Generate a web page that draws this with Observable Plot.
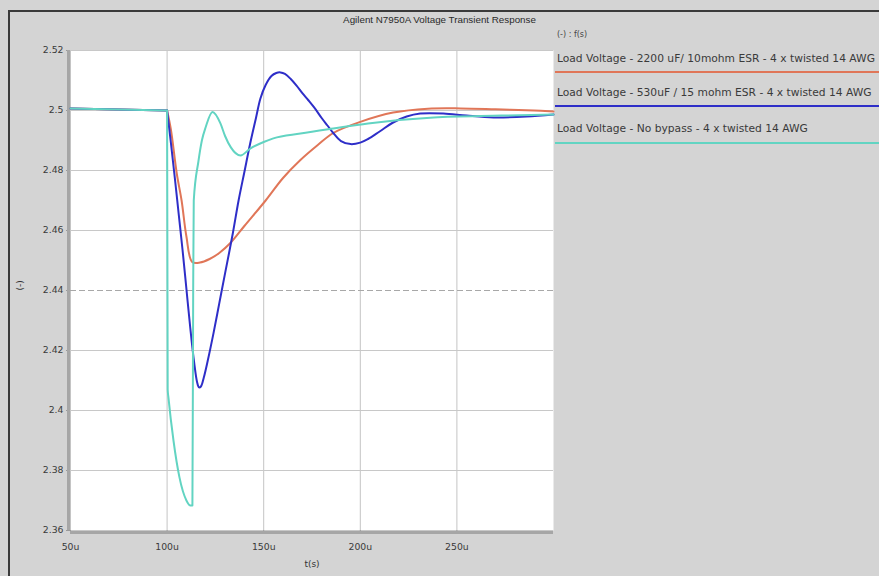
<!DOCTYPE html>
<html>
<head>
<meta charset="utf-8">
<script src="https://cdn.jsdelivr.net/npm/d3@7"></script>
<script src="https://cdn.jsdelivr.net/npm/@observablehq/plot@0.6"></script>
<style>
  html, body { margin: 0; padding: 0; background: #d4d4d4; overflow: hidden; width: 879px; height: 576px; }
  #wrap { position: relative; width: 879px; height: 576px; background: #d4d4d4; overflow: hidden;
          font-family: "Liberation Sans", Arial, sans-serif; color: #333; }
  #wrap svg { position: absolute; left: 0; top: 0; }
  .hline { position: absolute; left: 8px; top: 10px; width: 871px; height: 2px; background: #3a3a3a; }
  .vline { position: absolute; left: 8px; top: 10px; width: 2px; height: 566px; background: #3a3a3a; }
  .cover { position: absolute; left: 872px; top: 12px; width: 7px; height: 564px; background: #d4d4d4; }
  #title { position: absolute; top: 14px; left: 0; width: 879px; text-align: center; font-size: 9.8px; color: #2a2a2a; }
  .leghead { position: absolute; left: 557px; top: 30px; font-size: 8px; color: #444; font-family: "DejaVu Sans", sans-serif; }
  .legtext { position: absolute; left: 557px; font-size: 10.7px; color: #3a3a3a; white-space: nowrap; font-family: "DejaVu Sans", sans-serif; }
  .legline { position: absolute; left: 555px; width: 324px; height: 2px; }
</style>
</head>
<body>
<div id="wrap">
  <div class="hline"></div>
  <div class="vline"></div>
</div>
<script>
// ---- data (time in µs, voltage in V) ----
const seriesNames = [
  "Load Voltage - 2200 uF/ 10mohm ESR - 4 x twisted 14 AWG",
  "Load Voltage - 530uF / 15 mohm ESR - 4 x twisted 14 AWG",
  "Load Voltage - No bypass - 4 x twisted 14 AWG"
];
const seriesColors = ["#e07658", "#2e2ec8", "#62d4c2"];

const redT = [50, 75, 100, 102, 105, 107.5, 110, 113, 117, 122, 127, 133, 140, 151, 160, 169, 178, 186, 200, 217, 235, 252, 270, 290, 300];
const redV = [2.5007, 2.5003, 2.5, 2.4935, 2.479, 2.47, 2.458, 2.4495, 2.4493, 2.4505, 2.4525, 2.456, 2.4615, 2.47, 2.4775, 2.4835, 2.4885, 2.4925, 2.4962, 2.4993, 2.5006, 2.5007, 2.5004, 2.5, 2.4997];

const blueT = [50, 75, 100, 102, 104, 106, 108, 110, 112, 114, 115.5, 116.5, 117.5, 119, 121, 124, 127, 130, 134, 137, 140, 143, 146, 148.3, 151, 154, 156.5, 158.7, 161, 164, 167, 170, 173, 176.5, 180, 183, 186, 190, 195, 200, 204, 210, 217, 224, 231, 243, 255, 269, 286, 300];
const blueV = [2.5007, 2.5003, 2.5, 2.489, 2.4775, 2.4655, 2.4535, 2.4405, 2.4275, 2.416, 2.4095, 2.4077, 2.408, 2.411, 2.4165, 2.4257, 2.4357, 2.4457, 2.459, 2.47, 2.4795, 2.489, 2.4975, 2.504, 2.5085, 2.5115, 2.5125, 2.5127, 2.5122, 2.5105, 2.5083, 2.5058, 2.5035, 2.5007, 2.4975, 2.495, 2.4925, 2.4898, 2.4888, 2.4893, 2.4905, 2.493, 2.496, 2.498, 2.499, 2.499, 2.4983, 2.4977, 2.498, 2.4987];

const tealT = [50, 75, 100, 100.3, 100.7, 103.3, 106.4, 110, 112.1, 113.1, 113.5, 113.8, 116.2, 118, 120, 123.5, 127.6, 130, 133, 138, 143, 150, 155, 169, 186, 204, 238, 273, 300];
const tealV = [2.5007, 2.5003, 2.5, 2.407, 2.4043, 2.39, 2.3777, 2.37, 2.3683, 2.3683, 2.44, 2.47, 2.483, 2.49, 2.4945, 2.4995, 2.4957, 2.4915, 2.4877, 2.485, 2.4873, 2.4895, 2.4907, 2.4923, 2.494, 2.4957, 2.4977, 2.4983, 2.4987];

const xTicks = [50, 100, 150, 200, 250];
const yTicks = [2.36, 2.38, 2.4, 2.42, 2.44, 2.46, 2.48, 2.5, 2.52];

const tArrays = [redT, blueT, tealT];
const vArrays = [redV, blueV, tealV];
const curves = ["catmull-rom", "catmull-rom", "monotone-x"];
const stepTime = 100; // load step instant (µs)

const series = seriesNames.map((name, i) =>
  tArrays[i].map((t, j) => ({ series: name, t, v: vArrays[i][j] }))
);

const lineMarks = [];
series.forEach((d, i) => {
  lineMarks.push(Plot.line(d.filter(p => p.t <= stepTime), { x: "t", y: "v", stroke: "series", strokeWidth: 2, curve: "linear" }));
  lineMarks.push(Plot.line(d.filter(p => p.t >= stepTime), { x: "t", y: "v", stroke: "series", strokeWidth: 2, curve: curves[i] }));
});

const tickFont = { fontFamily: "DejaVu Sans, sans-serif", fontSize: 9.3 };

const plot = Plot.plot({
  width: 879,
  height: 576,
  marginLeft: 70,
  marginTop: 50,
  marginRight: 326,
  marginBottom: 46,
  style: { background: "transparent", fontFamily: "DejaVu Sans, sans-serif", fontSize: "9.3px", color: "#3a3a3a" },
  x: { domain: [50, 300], label: null },
  y: { domain: [2.36, 2.52], label: null },
  color: { domain: seriesNames, range: seriesColors },
  marks: [
    Plot.frame({ fill: "white", stroke: null }),
    Plot.gridX(xTicks, { stroke: "#c4c4c4", strokeOpacity: 1, strokeWidth: 1 }),
    Plot.gridY(yTicks.filter(d => d !== 2.44), { stroke: "#c8c8c8", strokeOpacity: 1, strokeWidth: 1 }),
    Plot.gridY([2.44], { stroke: "#a8a8a8", strokeOpacity: 1, strokeWidth: 1, strokeDasharray: "6,3" }),
    Plot.axisX({ ticks: xTicks, tickFormat: d => d + "u", tickSize: 4, tickPadding: 9, stroke: "#999", label: null, ...tickFont }),
    Plot.axisY({ ticks: yTicks, tickFormat: d => String(+d.toFixed(2)), tickSize: 4, tickPadding: 3, stroke: "#999", label: null, ...tickFont }),
    Plot.ruleX([50], { stroke: "#a6a6a6", strokeWidth: 3, dx: -2 }),
    Plot.ruleY([2.36], { stroke: "#a6a6a6", strokeWidth: 3, dy: 2 }),
    ...lineMarks,
    Plot.text(["t(s)"], { frameAnchor: "bottom", dy: 36, fontSize: 9, fill: "#333" }),
    Plot.text(["(-)"], { frameAnchor: "left", dx: -50, rotate: -90, fontSize: 9, fill: "#333" })
  ]
});
const wrap = document.getElementById("wrap");
wrap.appendChild(plot);

const cover = document.createElement("div");
cover.className = "cover";
wrap.appendChild(cover);

const title = document.createElement("div");
title.id = "title";
title.textContent = "Agilent N7950A Voltage Transient Response";
wrap.appendChild(title);

const head = document.createElement("div");
head.className = "leghead";
head.textContent = "(-) : f(s)";
wrap.appendChild(head);

const textTops = [52, 86, 122];
const lineTops = [71, 105, 142];
seriesNames.forEach((name, i) => {
  const t = document.createElement("div");
  t.className = "legtext";
  t.style.top = textTops[i] + "px";
  t.textContent = name;
  wrap.appendChild(t);
  const l = document.createElement("div");
  l.className = "legline";
  l.style.top = lineTops[i] + "px";
  l.style.background = seriesColors[i];
  wrap.appendChild(l);
});
</script>
</body>
</html>
